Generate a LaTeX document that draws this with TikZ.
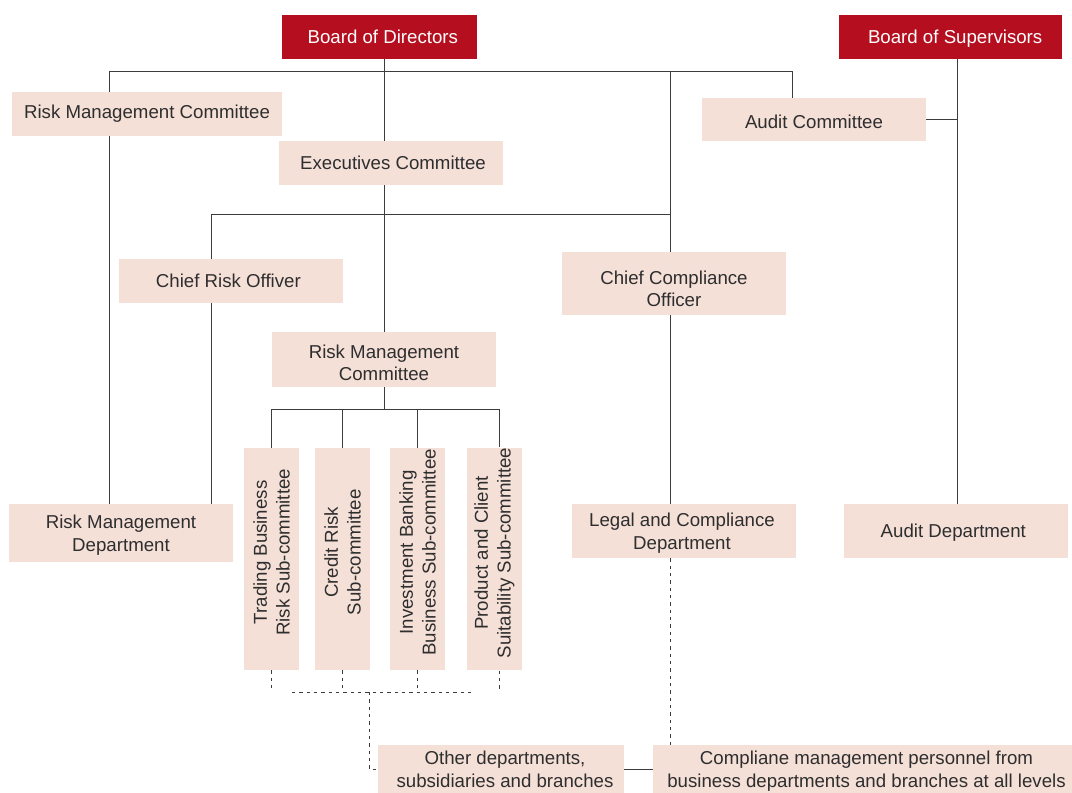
\documentclass[tikz,border=0pt]{standalone}
\usepackage{fontspec}
\setmainfont{Liberation Sans}
\usetikzlibrary{backgrounds}
\definecolor{boxpink}{HTML}{F5E0D8}
\definecolor{boardred}{HTML}{B50E1E}
\definecolor{txtgray}{HTML}{2E2E2E}
\definecolor{linegray}{HTML}{3C3C3C}
\begin{document}
\begin{tikzpicture}[x=0.75pt,y=-0.75pt,
  pbox/.style={fill=boxpink,text=txtgray,inner sep=0pt,align=center,font=\fontsize{14pt}{17pt}\selectfont},
  lbl/.style={text=txtgray,inner sep=0pt,align=center,font=\fontsize{14pt}{17pt}\selectfont},
  twoline/.style={text depth=-1pt},
  vbox/.style={pbox,rotate=90,minimum width=166.5pt,minimum height=41.25pt},
  rbox/.style={fill=boardred,text=white,inner sep=0pt,align=center,font=\fontsize{14pt}{17pt}\selectfont},
  conn/.style={draw=linegray,line width=0.75pt},
  dsh/.style={draw=linegray,line width=0.75pt,dash pattern=on 2.5pt off 3pt}]
\useasboundingbox (0,0) rectangle (1072,793);
% nodes
\node[rbox,minimum width=146.25pt,minimum height=33pt] (bod) at (379.5,37) {\hspace*{5pt}Board of Directors};
\node[rbox,text depth=0pt,minimum width=167.25pt,minimum height=33pt] (bos) at (950.5,37) {\hspace*{7pt}Board of Supervisors};
\node[pbox,minimum width=202.5pt,minimum height=33pt] (rmc1) at (147,114) {Risk Management Committee};
\node[pbox,minimum width=168pt,minimum height=32.25pt,
  label={[lbl,yshift=-1.5pt]center:Audit Committee}] (ac) at (814,119.5) {};
\node[pbox,minimum width=168pt,minimum height=33pt] (ec) at (391,163) {\hspace*{3pt}Executives Committee};
\node[pbox,minimum width=168pt,minimum height=33pt] (cro) at (231,281) {Chief Risk Offiver\hspace*{4pt}};
\node[pbox,minimum width=168pt,minimum height=47.25pt,
  label={[lbl,yshift=-4pt]center:Chief Compliance\\Officer}] (cco) at (674,283.5) {};
\node[pbox,minimum width=168pt,minimum height=41.25pt,
  label={[lbl,yshift=-2.6pt]center:Risk Management\\Committee}] (rmc2) at (384,359.5) {};
\node[vbox] (v1) at (271.5,559) {\hspace*{10pt}Trading Business\\\hspace*{10pt}Risk Sub-committee};
\node[vbox] (v2) at (342.5,559) {\hspace*{10pt}Credit Risk\\\hspace*{10pt}Sub-committee};
\node[vbox] (v3) at (417.5,559) {\hspace*{10pt}Investment Banking\\\hspace*{10pt}Business Sub-committee};
\node[vbox] (v4) at (494.5,559) {\hspace*{9pt}Product and Client\\\hspace*{9pt}Suitability Sub-committee};
\node[pbox,minimum width=168pt,minimum height=43.5pt,
  label={[lbl,yshift=-1.8pt]center:Risk Management\\Department}] (rmd) at (121,533) {};
\node[pbox,twoline,minimum width=168pt,minimum height=40.5pt] (lcd) at (684,531) {Legal and Compliance\hspace*{3pt}\\Department\hspace*{3pt}};
\node[pbox,text depth=0pt,minimum width=168pt,minimum height=40.5pt] (ad) at (956,531) {Audit Department\hspace*{4pt}};
\node[pbox,twoline,minimum width=184.5pt,minimum height=36pt] (od) at (501,769) {\hspace*{6pt}Other departments,\\\hspace*{6pt}subsidiaries and branches};
\node[pbox,twoline,minimum width=314.25pt,minimum height=36pt] (cm) at (862.5,769) {\hspace*{6pt}Compliane management personnel from\\\hspace*{6pt}business departments and branches at all levels};
% helper coordinates
\coordinate (x384) at (384,0);
\coordinate (x670) at (670,0);
\coordinate (x957) at (957,0);
\coordinate (x499) at (499,0);
\coordinate (x369) at (369,0);
\coordinate (t1) at (109,71);
\coordinate (t2) at (792,71);
\coordinate (m1) at (211,214);
\coordinate (b1) at (0,409);
\coordinate (h1) at (292,692);
\coordinate (h2) at (475,692);
% connectors
\begin{scope}[on background layer]
\draw[conn] (bod.south -| x384) -- (rmc2.north -| x384);
\draw[conn] (rmd.north -| t1) -- (t1) -- (t2) -- (ac.north -| t2);
\draw[conn] (lcd.north -| x670) -- (t1 -| x670);
\draw[conn] (rmd.north -| m1) -- (m1) -- (m1 -| x670);
\draw[conn] (bos.south -| x957) -- (ad.north -| x957);
\draw[conn] (ac.east) -- (ac.east -| x957);
\draw[conn] (rmc2.south) -- (rmc2.south |- b1);
\draw[conn] (v1.east) -- (v1.east |- b1) -- (b1 -| x499) -- (v4.east -| x499);
\draw[conn] (v2.east) -- (v2.east |- b1);
\draw[conn] (v3.east) -- (v3.east |- b1);
\draw[dsh] (v1.west) -- (v1.west |- h1);
\draw[dsh] (v2.west) -- (v2.west |- h1);
\draw[dsh] (v3.west) -- (v3.west |- h1);
\draw[dsh] (v4.west -| x499) -- (h1 -| x499);
\draw[dsh] (h1) -- (h2);
\draw[dsh] (h1 -| x369) |- (od.west);
\draw[dsh] (lcd.south -| x670) -- (cm.north -| x670);
\draw[conn] (od.east) -- (cm.west);
\end{scope}
\end{tikzpicture}
\end{document}
